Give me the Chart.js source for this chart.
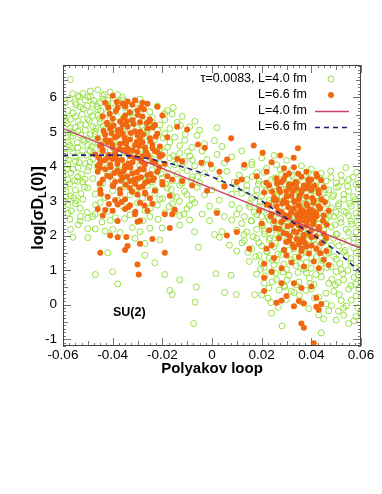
<!DOCTYPE html>
<html>
<head>
<meta charset="utf-8">
<script src="https://cdn.jsdelivr.net/npm/chart.js@4/dist/chart.umd.min.js"></script>
<style>
  html, body { margin: 0; padding: 0; background: #fff; }
  canvas { display: block; }
</style>
</head>
<body>
<canvas id="chart" width="382" height="494"></canvas>
<script>
// axis ranges and tick labels
const xRange = [-0.06, 0.06];
const yRange = [-1.2, 6.94];
const xTickStep = 0.02;
const yTickStep = 1;

const legendLabels = ['\u03c4=0.0083, L=4.0 fm', 'L=6.6 fm', 'L=4.0 fm', 'L=6.6 fm'];

// L=4.0 fm configurations (open circles), left cluster
const greenLeft = [
  [-0.057,6.52],[-0.052,6.12],[-0.049,6.18],[-0.046,6.22],[-0.044,6.05],[-0.041,6.15],[-0.050,6.02],[-0.038,6.08],[-0.054,6.05],[-0.036,6.0],
  [-0.058,5.62],[-0.055,5.85],[-0.053,5.72],[-0.051,5.92],[-0.048,5.80],[-0.046,5.65],[-0.044,5.95],[-0.042,5.78],[-0.040,5.60],[-0.038,5.88],
  [-0.035,5.70],[-0.033,5.55],[-0.031,5.82],[-0.028,5.66],[-0.025,5.58],[-0.022,5.75],[-0.018,5.62],[-0.016,5.52],[-0.056,5.55],[-0.049,5.58],
  [-0.045,5.85],[-0.036,5.92],[-0.029,5.95],
  [-0.059,5.32],[-0.057,5.12],[-0.055,5.45],[-0.053,5.22],[-0.051,5.05],[-0.050,5.38],[-0.048,5.15],[-0.046,5.48],[-0.045,5.28],[-0.043,5.08],
  [-0.041,5.36],[-0.040,5.18],[-0.038,5.44],[-0.036,5.02],[-0.034,5.25],[-0.032,5.40],[-0.030,5.12],[-0.028,5.32],[-0.026,5.05],[-0.024,5.42],
  [-0.021,5.20],[-0.019,5.35],[-0.017,5.10],[-0.014,5.28],[-0.012,5.45],[-0.009,5.15],[-0.005,5.05],[-0.047,5.02],[-0.054,5.02],[0.002,5.12],
  [-0.060,4.95],[-0.058,4.72],[-0.056,4.88],[-0.054,4.55],[-0.052,4.78],[-0.050,4.62],[-0.049,4.92],[-0.047,4.70],[-0.045,4.52],[-0.044,4.85],
  [-0.042,4.66],[-0.040,4.95],[-0.038,4.58],[-0.037,4.80],[-0.035,4.68],[-0.033,4.92],[-0.031,4.55],[-0.029,4.75],[-0.027,4.88],[-0.025,4.62],
  [-0.023,4.78],[-0.021,4.52],[-0.019,4.95],[-0.017,4.70],[-0.015,4.85],[-0.013,4.60],[-0.011,4.76],[-0.008,4.55],[-0.006,4.90],[-0.003,4.66],
  [0.001,4.75],[0.004,4.58],[-0.059,4.52],[-0.057,5.0],
  [-0.059,4.25],[-0.058,4.05],[-0.056,4.42],[-0.055,4.15],[-0.053,4.32],[-0.051,4.08],[-0.049,4.45],[-0.048,4.22],[-0.046,4.02],[-0.044,4.36],
  [-0.043,4.12],[-0.041,4.48],[-0.039,4.28],[-0.037,4.05],[-0.035,4.40],[-0.033,4.18],[-0.031,4.32],[-0.029,4.02],[-0.027,4.45],[-0.025,4.20],
  [-0.023,4.35],[-0.021,4.08],[-0.019,4.42],[-0.017,4.25],[-0.015,4.05],[-0.013,4.38],[-0.011,4.15],[-0.009,4.30],[-0.007,4.02],[-0.004,4.45],
  [-0.002,4.20],[0.002,4.35],[0.005,4.10],[0.008,4.28],[0.012,4.45],[0.016,4.05],
  [-0.060,3.85],[-0.058,3.62],[-0.056,3.92],[-0.054,3.70],[-0.052,3.55],[-0.050,3.88],[-0.048,3.65],[-0.046,3.95],[-0.044,3.52],[-0.042,3.78],
  [-0.040,3.60],[-0.038,3.90],[-0.036,3.68],[-0.034,3.55],[-0.032,3.82],[-0.030,3.62],[-0.028,3.95],[-0.026,3.72],[-0.024,3.55],[-0.022,3.85],
  [-0.020,3.66],[-0.018,3.92],[-0.016,3.58],[-0.014,3.78],[-0.012,3.62],[-0.010,3.88],[-0.008,3.70],[-0.005,3.52],[-0.003,3.80],[0.000,3.95],
  [0.003,3.64],[0.006,3.86],[0.009,3.55],[0.011,3.75],
  [-0.059,3.42],[-0.057,3.15],[-0.055,3.32],[-0.052,3.05],[-0.050,3.38],[-0.047,3.20],[-0.045,3.48],[-0.043,3.10],[-0.040,3.30],[-0.038,3.02],
  [-0.035,3.42],[-0.033,3.18],[-0.030,3.35],[-0.028,3.08],[-0.026,3.45],[-0.023,3.22],[-0.021,3.05],[-0.018,3.38],[-0.016,3.15],[-0.013,3.46],
  [-0.011,3.28],[-0.008,3.05],[-0.006,3.40],[-0.003,3.18],[0.000,3.32],[0.003,3.02],[0.005,3.44],[0.008,3.20],[0.010,3.36],
  [-0.058,2.65],[-0.055,2.92],[-0.053,2.55],[-0.050,2.50],[-0.048,2.55],[-0.047,2.62],[-0.045,2.95],[-0.042,2.70],[-0.039,2.52],[-0.036,2.85],
  [-0.033,2.60],[-0.030,2.95],[-0.027,2.72],[-0.025,2.55],[-0.022,2.88],[-0.019,2.66],[-0.016,2.92],[-0.013,2.58],[-0.010,2.78],[-0.007,2.95],
  [-0.004,2.62],[-0.001,2.85],[0.002,2.70],[0.005,2.55],[0.008,2.90],[0.010,2.62],
  [-0.057,2.18],[-0.053,2.42],[-0.050,2.20],[-0.047,2.19],[-0.043,2.13],[-0.040,2.18],[-0.037,2.09],[-0.029,2.11],[-0.025,2.21],[-0.020,2.22],
  [-0.013,2.30],[-0.009,2.45],[-0.007,2.11],[-0.001,2.43],[0.001,2.03],[0.004,2.11],[0.008,2.45],[0.010,2.15]
];

// L=4.0 fm, extra points filling the dense part of the left cluster
const greenLeftCore = [
  [-0.0592,5.84],[-0.0573,5.97],[-0.0561,6.11],[-0.0547,5.79],[-0.0534,6.02],[-0.0518,5.67],[-0.0503,5.76],[-0.0489,6.03],[-0.0476,5.91],[-0.0462,5.74],
  [-0.0448,5.61],[-0.0433,6.09],[-0.0419,5.91],[-0.0404,5.83],[-0.0597,5.43],[-0.0583,5.24],[-0.0569,5.37],[-0.0552,5.13],[-0.0538,5.31],[-0.0523,5.51],
  [-0.0509,5.21],[-0.0494,5.33],[-0.0481,5.47],[-0.0467,5.11],[-0.0453,5.39],[-0.0438,5.17],[-0.0424,5.54],[-0.0587,4.83],[-0.0574,4.61],[-0.0558,4.97],
  [-0.0543,4.69],[-0.0529,4.91],[-0.0514,4.73],[-0.0499,4.81],[-0.0485,4.57],[-0.0471,4.93],[-0.0457,4.67],[-0.0594,4.37],[-0.0578,4.19],[-0.0564,4.53],
  [-0.0549,4.29],[-0.0535,4.11],[-0.0521,4.46],[-0.0506,4.33],[-0.0491,4.13],[-0.0477,4.39],[-0.0599,3.71],[-0.0584,3.93],[-0.0569,3.81],[-0.0553,3.59],
  [-0.0539,3.97],[-0.0526,3.77],[-0.0511,3.63],[-0.0496,3.99],[-0.0589,3.27],[-0.0574,3.49],[-0.0557,3.09],[-0.0542,3.57],[-0.0528,3.21],[-0.0513,3.41],
  [-0.0581,2.89],[-0.0566,2.71],[-0.0548,3.01],[-0.0531,2.79],[-0.0593,2.99],[-0.0588,3.12],
  [-0.0396,4.67],[-0.0373,4.36],[-0.0351,5.07],[-0.0328,4.44],[-0.0306,5.58],[-0.0284,5.19],[-0.0263,4.99],[-0.0241,5.29],[-0.0219,5.06],[-0.0197,4.83],
  [-0.0179,4.56],[-0.0157,4.31],[-0.0139,4.09],[-0.0119,3.97],[-0.0098,4.43],[-0.0079,4.19],[-0.0058,3.72],[-0.0037,4.09],[-0.0241,3.91],[-0.0206,3.79],
  [-0.0186,3.49],[-0.0164,3.33],[-0.0143,3.11],[-0.0121,3.52],[-0.0101,3.19],[-0.0082,3.61],[-0.0262,3.57],[-0.0228,3.33],[-0.0199,3.07],[-0.0173,2.84],
  [-0.0151,2.71],[-0.0131,2.99],[-0.0113,2.62],[-0.0091,2.87],[-0.0217,2.47],[-0.0248,2.79],[-0.0279,2.43],[-0.0321,2.23],[-0.0352,2.49],[-0.0409,2.44],
  [-0.0443,2.39],[-0.0469,2.89],[-0.0503,2.67],[-0.0539,2.31],[-0.0572,2.47],[-0.0191,5.53],[-0.0156,5.71],[-0.0127,5.19],[-0.0108,4.93],[-0.0069,5.31]
];

// L=4.0 fm, sparse points below the left cluster and in the middle
const greenLow = [
  [-0.050,1.94],[-0.047,0.87],[-0.040,0.95],[-0.038,0.60],[-0.027,1.43],[-0.023,1.21],[-0.019,0.87],[-0.017,0.41],[-0.016,0.29],[-0.013,0.72],
  [-0.0063,0.51],[-0.0068,0.07],[-0.0074,-0.55],[-0.0055,1.66],[-0.042,1.50],[-0.027,1.77],[-0.021,1.87],[-0.031,1.92],[-0.056,1.95],
  [0.0016,0.90],[0.0077,0.85],[0.0051,0.35],[0.0098,0.29],[0.0172,0.29],[0.0238,0.06],[0.0282,-0.62],[0.003,1.95],[0.007,1.72],[0.010,1.55]
];

// L=4.0 fm, right cluster
const greenRight = [
  [0.013,3.98],[0.016,4.12],[0.018,3.82],[0.020,4.25],[0.022,3.95],[0.024,3.62],[0.026,4.05],[0.028,3.78],[0.030,4.18],[0.032,3.88],
  [0.034,3.55],[0.036,4.02],[0.038,3.72],[0.040,3.92],[0.042,3.60],[0.044,3.80],[0.046,3.58],[0.048,3.68],[0.050,3.52],[0.052,3.75],
  [0.055,3.62],[0.019,3.58],[0.031,3.65],[0.039,3.52],[0.025,4.32],[0.014,3.62],
  [0.012,3.22],[0.014,3.45],[0.016,3.08],[0.018,3.32],[0.020,3.15],[0.021,3.48],[0.023,3.02],[0.025,3.28],[0.027,3.42],[0.028,3.10],
  [0.030,3.35],[0.032,3.05],[0.033,3.48],[0.035,3.20],[0.037,3.40],[0.039,3.02],[0.040,3.30],[0.042,3.15],[0.044,3.45],[0.046,3.08],
  [0.047,3.32],[0.049,3.18],[0.051,3.42],[0.053,3.05],[0.055,3.28],[0.057,3.12],[0.059,3.35],[0.058,3.48],[0.026,3.12],[0.036,3.05],[0.045,3.25],
  [0.011,2.78],[0.013,2.55],[0.015,2.92],[0.017,2.68],[0.019,2.85],[0.020,2.55],[0.022,2.75],[0.024,2.95],[0.025,2.60],[0.027,2.82],
  [0.029,2.52],[0.030,2.72],[0.032,2.90],[0.034,2.62],[0.036,2.80],[0.038,2.55],[0.039,2.95],[0.041,2.70],[0.043,2.52],[0.044,2.88],
  [0.046,2.65],[0.048,2.80],[0.049,2.55],[0.051,2.92],[0.053,2.70],[0.055,2.58],[0.056,2.85],[0.058,2.65],[0.060,2.78],[0.033,2.55],
  [0.042,2.92],[0.050,2.68],
  [0.012,2.35],[0.014,2.10],[0.016,2.42],[0.018,2.18],[0.020,2.30],[0.021,2.05],[0.023,2.45],[0.025,2.22],[0.026,2.02],[0.028,2.38],
  [0.030,2.15],[0.031,2.48],[0.033,2.28],[0.035,2.05],[0.036,2.40],[0.038,2.20],[0.040,2.45],[0.041,2.08],[0.043,2.32],[0.045,2.15],
  [0.046,2.48],[0.048,2.25],[0.050,2.05],[0.052,2.38],[0.054,2.18],[0.056,2.42],[0.058,2.10],[0.059,2.30],[0.027,2.30],[0.039,2.02],
  [0.013,1.85],[0.016,1.62],[0.018,1.92],[0.020,1.70],[0.022,1.55],[0.023,1.88],[0.025,1.68],[0.027,1.95],[0.029,1.58],[0.031,1.80],
  [0.033,1.62],[0.035,1.95],[0.037,1.72],[0.039,1.55],[0.041,1.88],[0.043,1.65],[0.045,1.82],[0.047,1.58],[0.049,1.92],[0.051,1.70],
  [0.053,1.52],[0.055,1.85],[0.057,1.65],[0.059,1.78],[0.034,1.75],[0.044,1.95],
  [0.015,1.25],[0.019,1.42],[0.021,1.08],[0.023,1.35],[0.025,1.15],[0.028,1.45],[0.030,1.02],[0.032,1.30],[0.034,1.12],[0.036,1.48],
  [0.038,1.22],[0.040,1.05],[0.042,1.38],[0.044,1.18],[0.046,1.45],[0.048,1.10],[0.050,1.32],[0.052,1.02],[0.054,1.40],[0.056,1.20],
  [0.058,1.05],[0.060,1.35],[0.026,1.28],
  [0.018,0.88],[0.021,0.62],[0.024,0.95],[0.026,0.72],[0.029,0.55],[0.031,0.85],[0.035,0.65],[0.038,0.92],[0.041,0.58],[0.044,0.80],
  [0.047,0.62],[0.050,0.95],[0.053,0.72],[0.056,0.55],[0.059,0.85],[0.060,0.68],
  [0.020,0.28],[0.027,0.42],[0.030,0.15],[0.033,0.35],[0.036,0.08],[0.040,0.45],[0.043,0.22],[0.046,0.02],[0.049,0.38],[0.052,0.12],
  [0.055,0.45],[0.058,0.25],
  [0.024,-0.25],[0.039,-0.12],[0.043,-0.30],[0.044,-0.82],[0.047,-0.18],[0.050,-0.45],[0.053,-0.10],[0.055,-0.55],[0.058,-0.35],[0.060,-0.22]
];

// L=4.0 fm, extra points filling the dense part of the right cluster
const greenRightCore = [
  [0.0163,3.71],[0.0187,3.49],[0.0209,3.83],[0.0231,3.39],[0.0254,3.67],[0.0276,3.91],[0.0298,3.47],[0.0321,3.73],[0.0343,3.36],[0.0366,3.58],
  [0.0388,3.82],[0.0411,3.41],[0.0433,3.67],[0.0456,3.33],[0.0478,3.87],[0.0501,3.39],[0.0523,3.57],[0.0546,3.43],[0.0568,3.69],[0.0591,3.51],
  [0.0171,3.13],[0.0194,2.97],[0.0216,3.29],[0.0239,2.87],[0.0261,3.19],[0.0284,2.99],[0.0306,3.23],[0.0329,2.81],[0.0351,3.09],[0.0374,2.93],
  [0.0396,3.17],[0.0419,2.83],[0.0441,3.03],[0.0464,2.91],[0.0486,3.13],[0.0509,2.86],[0.0531,3.19],[0.0554,2.93],[0.0576,3.03],[0.0597,2.89],
  [0.0158,2.43],[0.0181,2.61],[0.0203,2.29],[0.0226,2.53],[0.0248,2.37],[0.0271,2.63],[0.0293,2.27],[0.0316,2.47],[0.0338,2.69],[0.0361,2.33],
  [0.0383,2.57],[0.0406,2.21],[0.0428,2.63],[0.0451,2.39],[0.0473,2.57],[0.0496,2.31],[0.0518,2.49],[0.0541,2.67],[0.0563,2.33],[0.0586,2.53],
  [0.0166,1.97],[0.0189,1.79],[0.0211,2.13],[0.0234,1.93],[0.0256,1.77],[0.0279,2.09],[0.0301,1.87],[0.0324,2.01],[0.0346,1.81],[0.0369,2.13],
  [0.0391,1.89],[0.0414,1.73],[0.0436,2.07],[0.0459,1.91],[0.0481,1.71],[0.0504,2.03],[0.0526,1.83],[0.0549,2.09],[0.0571,1.93],[0.0594,1.67],
  [0.0176,1.39],[0.0199,1.21],[0.0221,1.53],[0.0244,1.29],[0.0266,1.47],[0.0289,1.17],[0.0311,1.57],[0.0334,1.37],[0.0356,1.19],[0.0379,1.51],
  [0.0401,1.33],[0.0424,1.59],[0.0446,1.27],[0.0469,1.51],[0.0491,1.39],[0.0514,1.19],[0.0536,1.57],[0.0559,1.33],[0.0581,1.49],[0.0599,1.13],
  [0.0213,0.83],[0.0257,0.91],[0.0302,0.71],[0.0347,0.93],[0.0392,0.77],[0.0437,0.97],[0.0482,0.73],[0.0527,0.89],[0.0572,0.79],[0.0229,0.48],
  [0.0319,0.39],[0.0413,0.19],[0.0497,0.57],[0.0561,0.13],[0.0587,-0.09],[0.0531,-0.31],[0.0481,-0.03],[0.0449,-0.41],[0.0267,-0.08],[0.0379,0.41]
];

// L=4.0 fm, lower edge of the right cluster
const greenRightLow = [
  [0.0196,1.02],[0.0243,0.66],[0.0286,0.94],[0.0337,0.57],[0.0371,1.03],[0.0418,0.87],[0.0462,1.07],[0.0508,0.64],[0.0547,0.99],[0.0592,0.47],
  [0.0225,0.19],[0.0293,0.51],[0.0352,0.27],[0.0396,0.61],[0.0459,0.33],[0.0512,0.29],[0.0578,0.59],[0.0541,-0.04],[0.0509,-0.19],[0.0572,-0.47],
  [0.0597,2.21],[0.0599,2.63],[0.0596,3.09],[0.0583,3.83],[0.0539,3.97],[0.0152,2.83],[0.0139,3.31],[0.0144,1.51],[0.0129,2.03],[0.0121,1.79]
];

// L=6.6 fm configurations (filled dots), left cluster
const orangeLeft = [
  [-0.040,6.05],[-0.036,5.82],[-0.034,5.88],[-0.031,5.92],[-0.028,5.85],[-0.026,5.82],[-0.043,5.85],[-0.038,5.70],[-0.022,5.73],[-0.030,5.62],
  [-0.044,5.45],[-0.042,5.22],[-0.040,5.38],[-0.038,5.05],[-0.037,5.30],[-0.035,5.48],[-0.034,5.15],[-0.032,5.35],[-0.031,5.02],[-0.029,5.28],
  [-0.028,5.45],[-0.026,5.10],[-0.025,5.32],[-0.023,5.20],[-0.041,5.10],[-0.036,5.22],[-0.014,5.15],[-0.010,5.07],[-0.020,5.48],
  [-0.046,4.82],[-0.045,4.60],[-0.043,4.92],[-0.042,4.70],[-0.040,4.55],[-0.039,4.85],[-0.037,4.65],[-0.036,4.95],[-0.034,4.52],[-0.033,4.78],
  [-0.031,4.62],[-0.030,4.90],[-0.028,4.70],[-0.027,4.55],[-0.025,4.82],[-0.024,4.62],[-0.022,4.95],[-0.021,4.58],[-0.018,4.85],[-0.041,4.75],
  [-0.035,4.72],[-0.029,4.80],[-0.0056,4.64],[-0.0029,4.54],
  [-0.047,4.35],[-0.045,4.12],[-0.044,4.45],[-0.042,4.25],[-0.041,4.05],[-0.039,4.38],[-0.038,4.18],[-0.036,4.48],[-0.035,4.02],[-0.033,4.30],
  [-0.032,4.12],[-0.030,4.42],[-0.029,4.22],[-0.027,4.05],[-0.026,4.35],[-0.024,4.15],[-0.023,4.45],[-0.021,4.28],[-0.019,4.08],[-0.020,4.33],
  [-0.014,4.22],[-0.040,4.22],[-0.034,4.40],[-0.028,4.30],[-0.0043,4.11],[-0.046,4.02],[-0.0005,4.06],
  [-0.046,3.85],[-0.044,3.62],[-0.043,3.92],[-0.041,3.70],[-0.039,3.55],[-0.038,3.88],[-0.036,3.68],[-0.035,3.95],[-0.033,3.58],[-0.032,3.80],
  [-0.030,3.65],[-0.029,3.92],[-0.027,3.52],[-0.026,3.75],[-0.024,3.60],[-0.022,3.85],[-0.020,3.55],[-0.018,3.72],[-0.016,3.62],[-0.037,3.78],
  [-0.031,3.50],[-0.012,3.58],
  [-0.045,3.32],[-0.042,3.12],[-0.040,3.45],[-0.037,3.22],[-0.035,3.05],[-0.033,3.38],[-0.030,3.18],[-0.028,3.42],[-0.025,3.08],[-0.023,3.30],
  [-0.020,3.48],[-0.017,3.15],[-0.039,3.02],[-0.027,3.25],
  [-0.046,2.77],[-0.043,2.74],[-0.040,2.72],[-0.038,2.90],[-0.035,2.77],[-0.033,2.88],[-0.031,2.62],[-0.029,2.95],[-0.026,2.72],[-0.024,2.92],
  [-0.019,2.62],[-0.044,2.58],
  [-0.041,2.00],[-0.038,1.95],[-0.0345,1.96],[-0.035,1.58],[-0.034,1.70],[-0.029,1.76],[-0.024,1.90],[-0.019,1.50],[-0.017,2.22],[-0.016,2.62],
  [-0.030,2.40],[-0.029,2.43],[-0.038,2.42],[-0.045,1.50],[-0.030,1.16],[-0.0295,0.87]
];

// L=6.6 fm, extra points filling the dense part of the left cluster
const orangeLeftCore = [
  [-0.0412,5.53],[-0.0387,5.61],[-0.0355,5.41],[-0.0331,5.57],[-0.0298,5.49],[-0.0274,5.66],[-0.0251,5.37],[-0.0423,5.27],[-0.0396,5.19],[-0.0368,5.07],
  [-0.0343,5.31],[-0.0316,5.23],[-0.0289,5.01],[-0.0262,5.26],[-0.0437,5.03],[-0.0405,4.97],[-0.0379,4.89],[-0.0352,4.83],[-0.0327,4.97],[-0.0303,4.71],
  [-0.0277,4.93],[-0.0248,4.74],[-0.0429,4.77],[-0.0401,4.64],[-0.0374,4.51],[-0.0346,4.66],[-0.0319,4.47],[-0.0293,4.59],[-0.0266,4.43],[-0.0239,4.52],
  [-0.0441,4.49],[-0.0416,4.33],[-0.0389,4.27],[-0.0362,4.19],[-0.0337,4.09],[-0.0309,4.26],[-0.0283,4.14],[-0.0256,4.29],[-0.0228,4.11],[-0.0432,4.18],
  [-0.0408,3.98],[-0.0381,4.07],[-0.0356,3.86],[-0.0329,3.97],[-0.0302,3.83],[-0.0275,3.91],[-0.0247,3.78],[-0.0421,3.73],[-0.0394,3.81],[-0.0367,3.59],
  [-0.0341,3.71],[-0.0313,3.62],[-0.0286,3.69],[-0.0258,3.57],[-0.0234,3.66],[-0.0398,3.43],[-0.0371,3.33],[-0.0348,3.47],[-0.0322,3.27],[-0.0294,3.39],
  [-0.0268,3.21],[-0.0383,5.87],[-0.0349,5.74],[-0.0321,5.79],[-0.0286,5.71],[-0.0418,5.71],[-0.0446,4.63],[-0.0455,4.25],[-0.0451,3.97],[-0.0219,4.41],
  [-0.0212,3.98],[-0.0226,4.87],[-0.0239,5.13],[-0.0452,3.51],[-0.0448,3.21],[-0.0364,2.97],[-0.0336,2.83],[-0.0309,2.69],[-0.0272,2.87],[-0.0415,2.91]
];

// L=6.6 fm, middle and right cluster
const orangeRight = [
  [-0.012,4.15],[-0.008,3.45],[-0.002,3.30],[0.002,2.65],[0.003,3.85],[0.006,2.0],[0.010,3.55],[0.012,3.62],
  [0.013,4.05],[0.005,3.42],[-0.015,2.75],[0.010,2.10],[0.015,1.62],
  [0.0077,4.82],[0.0168,4.61],[0.0204,4.40],[0.0275,4.32],[0.0329,4.25],[0.0346,4.53],[0.024,4.12],[0.0061,4.20],[0.029,3.95],[0.031,3.80],
  [0.033,3.98],[0.036,3.70],[0.038,3.85],[0.040,3.62],[0.042,3.78],[0.044,3.60],[0.026,3.65],[0.028,3.55],[0.034,3.52],[0.022,3.85],
  [0.018,3.72],[0.039,3.55],
  [0.021,3.25],[0.023,3.45],[0.025,3.10],[0.027,3.35],[0.029,3.02],[0.030,3.28],[0.031,3.48],[0.032,3.15],[0.034,3.38],[0.035,3.05],
  [0.036,3.25],[0.037,3.45],[0.038,3.12],[0.040,3.32],[0.041,3.02],[0.043,3.22],[0.045,3.40],[0.033,3.00],[0.039,3.42],[0.026,3.02],
  [0.019,2.72],[0.022,2.90],[0.024,2.62],[0.026,2.85],[0.028,2.68],[0.030,2.95],[0.031,2.55],[0.033,2.78],[0.034,2.60],[0.035,2.88],
  [0.036,2.52],[0.037,2.70],[0.038,2.92],[0.039,2.58],[0.040,2.75],[0.041,2.52],[0.042,2.65],[0.043,2.85],[0.045,2.58],[0.047,2.72],
  [0.036,2.65],[0.040,2.62],[0.038,2.50],
  [0.020,2.35],[0.023,2.15],[0.025,2.42],[0.027,2.20],[0.029,2.48],[0.030,2.05],[0.032,2.30],[0.033,2.12],[0.035,2.45],[0.036,2.22],
  [0.037,2.02],[0.038,2.38],[0.040,2.15],[0.041,2.42],[0.043,2.25],[0.045,2.05],[0.035,2.30],
  [0.024,1.72],[0.027,1.92],[0.029,1.58],[0.031,1.85],[0.033,1.65],[0.034,1.90],[0.035,1.75],[0.036,1.55],[0.037,1.82],[0.038,1.68],
  [0.040,1.95],[0.042,1.62],[0.044,1.78],[0.046,1.55],[0.022,1.62],
  [0.021,1.18],[0.025,1.35],[0.028,1.05],[0.030,1.42],[0.032,1.22],[0.035,1.38],[0.037,1.10],[0.039,1.48],[0.041,1.25],[0.043,1.05],
  [0.045,1.30],[0.047,1.15],
  [0.021,0.39],[0.021,0.78],[0.024,0.95],[0.028,0.62],[0.030,0.25],[0.033,0.62],[0.035,0.10],[0.036,0.48],[0.037,0.03],[0.040,0.52],
  [0.042,-0.06],[0.043,-0.15],[0.028,0.12],[0.033,-0.05],[0.036,-0.55],[0.037,-0.67],[0.041,-1.12],[0.042,0.20],[0.044,0.02],[0.026,0.05]
];

// L=6.6 fm, extra points filling the dense part of the right cluster
const orangeRightCore = [
  [0.0262,3.51],[0.0288,3.62],[0.0311,3.39],[0.0337,3.55],[0.0362,3.31],[0.0389,3.63],[0.0413,3.44],[0.0275,3.27],[0.0301,3.13],[0.0326,3.29],
  [0.0353,3.17],[0.0378,3.36],[0.0404,3.09],[0.0428,3.31],[0.0249,3.03],[0.0283,2.93],[0.0307,2.82],[0.0333,2.97],[0.0358,2.77],[0.0384,2.86],
  [0.0409,2.95],[0.0436,2.78],[0.0267,2.71],[0.0294,2.59],[0.0318,2.67],[0.0345,2.51],[0.0371,2.58],[0.0396,2.47],[0.0421,2.56],[0.0447,2.43],
  [0.0279,2.39],[0.0304,2.27],[0.0331,2.36],[0.0357,2.19],[0.0382,2.29],[0.0407,2.33],[0.0432,2.18],[0.0256,2.21],[0.0288,2.07],[0.0314,1.98],
  [0.0341,2.09],[0.0367,1.93],[0.0393,2.05],[0.0418,1.97],[0.0299,1.81],[0.0325,1.73],[0.0352,1.86],[0.0376,1.77],[0.0401,1.71],[0.0361,1.62],
  [0.0374,2.63],[0.0392,2.71],[0.0386,2.52],[0.0398,2.61],[0.0411,2.68],[0.0366,2.44],[0.0351,2.66],[0.0322,3.47],[0.0296,3.74],[0.0347,3.79],
  [0.0423,3.71],[0.0441,3.05],[0.0236,2.56],[0.0242,3.27],[0.0231,2.87],[0.0219,3.53],[0.0455,2.97],[0.0462,2.31],[0.0459,1.92],[0.0436,1.49]
];

// fitted curves
const fitL40 = [[-0.06, 5.10], [0.06, 1.63]];
const fitL66 = [
  [-0.06,4.32],[-0.05,4.33],[-0.04,4.33],[-0.03,4.28],[-0.02,4.14],[-0.01,3.95],[0.0,3.70],
  [0.01,3.38],[0.02,3.00],[0.03,2.50],[0.04,2.05],[0.05,1.55],[0.06,0.92]
];

const suLabel = { text: 'SU(2)', x: -0.0333, y: -0.23 };

const toXY = arr => arr.map(p => ({ x: p[0], y: p[1] }));

const GREEN = '#97e044';
const ORANGE = '#f06810';
const RED = '#cf3f68';
const BLUE = '#1e1e7e';
const FONT = "'Liberation Sans', Arial, Helvetica, sans-serif";

// frame, inward ticks, titles and the legend drawn on top of the datasets
const decorations = {
    id: 'decorations',
    afterDraw(chart) {
        const ctx = chart.ctx;
        const a = chart.chartArea;
        const xs = chart.scales.x;
        const ys = chart.scales.y;
        ctx.save();

        // ticks on all four sides
        ctx.strokeStyle = '#777';
        ctx.lineWidth = 1;
        ctx.beginPath();
        for (let i = 0; i <= 48; i++) {
            const v = xRange[0] + i * 0.0025;
            const len = i % 8 === 0 ? 8 : (i % 4 === 0 ? 5 : 3);
            const px = Math.round(xs.getPixelForValue(v)) + 0.5;
            ctx.moveTo(px, a.bottom); ctx.lineTo(px, a.bottom - len);
            ctx.moveTo(px, a.top); ctx.lineTo(px, a.top + len);
        }
        for (let i = -12; i <= 69; i++) {
            const v = i / 10;
            const len = i % 10 === 0 ? 8 : (i % 5 === 0 ? 5 : 3);
            const py = Math.round(ys.getPixelForValue(v)) + 0.5;
            ctx.moveTo(a.left, py); ctx.lineTo(a.left + len, py);
            ctx.moveTo(a.right, py); ctx.lineTo(a.right - len, py);
        }
        ctx.stroke();

        // frame
        ctx.strokeStyle = '#444';
        ctx.strokeRect(a.left + 0.5, a.top + 0.5, a.right - a.left - 1, a.bottom - a.top - 1);

        // x title
        ctx.fillStyle = '#000';
        ctx.font = 'bold 15px ' + FONT;
        ctx.textAlign = 'center';
        ctx.textBaseline = 'middle';
        ctx.fillText('Polyakov loop', (a.left + a.right) / 2, 369);

        // y title with subscript
        ctx.save();
        ctx.translate(39, 208);
        ctx.rotate(-Math.PI / 2);
        const big = 'bold 16px ' + FONT;
        const small = 'bold 11px ' + FONT;
        const parts = [['log[\u03c3D', big, 0], ['L', small, 4], ['(0)]', big, 0]];
        let total = 0;
        parts.forEach(p => { ctx.font = p[1]; total += ctx.measureText(p[0]).width; });
        let cx = -total / 2;
        ctx.textAlign = 'left';
        parts.forEach(p => {
            ctx.font = p[1];
            ctx.fillText(p[0], cx, p[2]);
            cx += ctx.measureText(p[0]).width;
        });
        ctx.restore();

        // SU(2) label
        ctx.font = 'bold 12.5px ' + FONT;
        ctx.textAlign = 'center';
        ctx.fillText(suLabel.text, xs.getPixelForValue(suLabel.x), ys.getPixelForValue(suLabel.y));

        // legend
        const ds = chart.data.datasets;
        const rowY = [79, 95, 111, 127];
        ctx.font = '12.5px ' + FONT;
        ctx.textAlign = 'right';
        ds.forEach((d, i) => {
            const y = rowY[i];
            ctx.fillStyle = '#000';
            ctx.fillText(d.label, 307, y);
            if (i === 0) {
                ctx.strokeStyle = GREEN; ctx.lineWidth = 1;
                ctx.beginPath(); ctx.arc(331, y, 3, 0, Math.PI * 2); ctx.stroke();
            } else if (i === 1) {
                ctx.fillStyle = ORANGE;
                ctx.beginPath(); ctx.arc(331, y, 3, 0, Math.PI * 2); ctx.fill();
            } else {
                ctx.strokeStyle = d.borderColor; ctx.lineWidth = d.borderWidth;
                ctx.setLineDash(d.borderDash || []);
                ctx.beginPath(); ctx.moveTo(315, y + 0.5); ctx.lineTo(349, y + 0.5); ctx.stroke();
                ctx.setLineDash([]);
            }
        });
        ctx.restore();
    }
};

new Chart(document.getElementById('chart'), {
    type: 'scatter',
    data: {
        datasets: [
            {
                label: legendLabels[0],
                data: toXY(greenLeft.concat(greenLeftCore, greenLow, greenRight, greenRightCore, greenRightLow)),
                pointRadius: 3,
                pointBorderWidth: 1,
                pointBackgroundColor: 'rgba(0,0,0,0)',
                pointBorderColor: GREEN,
                order: 3
            },
            {
                label: legendLabels[1],
                data: toXY(orangeLeft.concat(orangeLeftCore, orangeRight, orangeRightCore)),
                pointRadius: 3,
                pointBorderWidth: 0,
                pointBackgroundColor: ORANGE,
                pointBorderColor: ORANGE,
                order: 2
            },
            {
                label: legendLabels[2],
                data: toXY(fitL40),
                showLine: true,
                pointRadius: 0,
                borderColor: RED,
                borderWidth: 1.3,
                order: 1
            },
            {
                label: legendLabels[3],
                data: toXY(fitL66),
                showLine: true,
                pointRadius: 0,
                borderColor: BLUE,
                borderWidth: 1.6,
                borderDash: [5, 4],
                cubicInterpolationMode: 'monotone',
                order: 0
            }
        ]
    },
    options: {
        responsive: false,
        animation: false,
        devicePixelRatio: 1,
        layout: { padding: { top: 65, right: 21, left: 0, bottom: 0 } },
        plugins: {
            legend: { display: false },
            tooltip: { enabled: false }
        },
        scales: {
            x: {
                type: 'linear',
                min: xRange[0],
                max: xRange[1],
                grid: { display: false, drawTicks: false },
                border: { display: false },
                ticks: {
                    stepSize: xTickStep,
                    padding: 3,
                    color: '#000',
                    font: { family: FONT, size: 13.5, lineHeight: 1.0 },
                    maxRotation: 0,
                    callback: v => Math.abs(v) < 1e-9 ? '0' : v.toFixed(2)
                },
                afterFit: scale => { scale.height = 148; }
            },
            y: {
                type: 'linear',
                min: yRange[0],
                max: yRange[1],
                grid: { display: false, drawTicks: false },
                border: { display: false },
                ticks: {
                    stepSize: yTickStep,
                    includeBounds: false,
                    padding: 6,
                    color: '#000',
                    font: { family: FONT, size: 13.5 },
                    callback: v => String(v)
                },
                afterFit: scale => { scale.width = 63; }
            }
        }
    },
    plugins: [decorations]
});
</script>
</body>
</html>
